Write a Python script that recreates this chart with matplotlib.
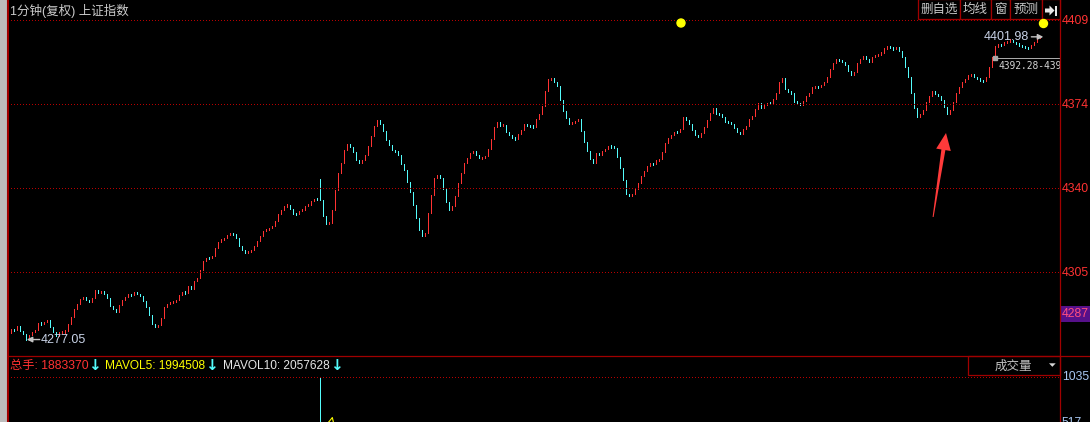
import matplotlib.pyplot as plt
import matplotlib.transforms as mtransforms
from matplotlib.patches import Rectangle, Polygon, Circle
import numpy as np

plt.rcParams['font.family'] = ['Liberation Sans', 'Noto Sans CJK SC', 'DejaVu Sans']

# 1分钟收盘价 (bar 1 .. 344)
closes = [
    4281.4, 4280.9, 4282.8, 4280.7, 4279.3, 4277.05, 4279.0, 4280.1, 4280.9, 4284.0,
    4283.4, 4284.4, 4285.1, 4282.1, 4280.0, 4278.6, 4280.0, 4280.3, 4280.4, 4283.4,
    4286.5, 4289.7, 4291.8, 4293.7, 4294.8, 4293.2, 4292.6, 4294.3, 4297.3, 4296.2,
    4296.9, 4295.9, 4294.1, 4290.8, 4289.6, 4288.3, 4291.1, 4293.4, 4294.8, 4295.7,
    4295.3, 4296.6, 4295.9, 4295.1, 4292.8, 4290.4, 4287.2, 4283.4, 4282.1, 4283.2,
    4285.9, 4290.4, 4291.8, 4292.3, 4292.8, 4293.4, 4295.3, 4296.6, 4296.4, 4299.0,
    4297.9, 4301.2, 4302.6, 4305.9, 4309.4, 4310.9, 4310.5, 4311.5, 4314.7, 4317.1,
    4318.4, 4319.0, 4320.1, 4320.8, 4320.5, 4319.1, 4315.7, 4314.0, 4312.9, 4313.3,
    4314.0, 4315.7, 4317.75, 4319.8, 4321.9, 4322.3, 4322.9, 4324.0, 4326.1, 4329.0,
    4330.7, 4332.3, 4332.5, 4331.1, 4329.0, 4328.8, 4330.25, 4330.7, 4332.1, 4332.75,
    4334.1, 4335.25, 4334.6, 4334.5, 4328.2, 4324.8, 4325.2, 4330.7, 4338.6, 4345.7,
    4349.8, 4355.25, 4357.75, 4356.5, 4354.6, 4351.1, 4349.8, 4351.1, 4353.2, 4356.9,
    4361.1, 4365.25, 4367.75, 4366.1, 4363.2, 4359.4, 4357.3, 4355.25, 4354.8, 4353.2,
    4349.4, 4346.9, 4341.9, 4337.75, 4332.75, 4327.3, 4322.3, 4319.8, 4321.2, 4329.4,
    4336.9, 4343.6, 4344.8, 4343.6, 4339.0, 4334.0, 4330.7, 4332.3, 4336.1, 4341.5,
    4345.7, 4349.8, 4351.9, 4354.0, 4354.8, 4353.2, 4351.9, 4352.3, 4352.75, 4355.7,
    4359.8, 4364.8, 4366.9, 4365.25, 4365.7, 4362.75, 4361.5, 4360.25, 4359.8, 4361.9,
    4363.6, 4366.1, 4365.25, 4365.1, 4364.8, 4368.2, 4370.25, 4373.6, 4379.8, 4384.4,
    4384.8, 4383.2, 4381.5, 4376.1, 4371.5, 4368.6, 4366.1, 4366.6, 4367.3, 4368.2,
    4363.2, 4358.6, 4354.8, 4351.5, 4349.8, 4354.0, 4353.2, 4354.8, 4355.7, 4356.9,
    4356.5, 4356.2, 4352.3, 4347.75, 4342.75, 4337.3, 4336.1, 4337.3, 4339.0, 4341.5,
    4344.4, 4346.5, 4348.6, 4349.8, 4349.4, 4351.1, 4351.5, 4354.4, 4358.2, 4360.25,
    4361.5, 4362.75, 4362.5, 4364.0, 4369.0, 4367.75, 4366.1, 4363.6, 4361.5, 4360.7,
    4362.3, 4364.8, 4367.75, 4370.7, 4372.75, 4370.25, 4370.1, 4369.0, 4366.9, 4366.5,
    4366.1, 4364.4, 4362.75, 4361.9, 4364.0, 4365.25, 4368.2, 4369.4, 4372.3, 4374.8,
    4372.75, 4374.0, 4374.8, 4374.3, 4376.5, 4379.0, 4383.2, 4384.8, 4380.25, 4379.4,
    4378.6, 4375.25, 4374.8, 4374.0, 4375.7, 4377.75, 4378.6, 4381.1, 4381.5, 4381.2,
    4382.3, 4383.2, 4385.25, 4388.6, 4391.1, 4392.75, 4392.4, 4391.6, 4390.2, 4388.0,
    4386.3, 4387.5, 4391.1, 4392.7, 4394.1, 4392.9, 4391.6, 4393.8, 4394.3, 4394.7,
    4395.5, 4397.2, 4398.0, 4397.5, 4396.9, 4397.8, 4396.3, 4393.6, 4389.7, 4385.5,
    4378.6, 4372.5, 4368.8, 4370.2, 4371.6, 4375.1, 4377.5, 4379.7, 4378.3, 4377.5,
    4375.8, 4373.0, 4370.2, 4371.9, 4375.0, 4378.6, 4381.3, 4383.3, 4384.7, 4386.1,
    4386.5, 4385.2, 4384.7, 4384.1, 4383.6, 4385.5, 4389.7, 4393.8, 4398.0, 4398.8,
    4398.6, 4399.7, 4400.2, 4400.8, 4399.7, 4399.1, 4398.6, 4398.0, 4397.5, 4397.2,
    4398.8, 4400.0, 4401.6, 4401.98,
]
first_open = 4279.6
gap_opens = {104: 4343.2}   # bar whose open jumps away from the previous close

low_bar, low_price = 6, 4277.05
high_bar, high_price = 344, 4401.98

grid_prices = [4408.8, 4374.1, 4339.5, 4304.8]
grid_labels = ['4409', '4374', '4340', '4305']
mark_label = '4287'

range_bar, range_price = 329, 4393.1
range_text = '4392.28-439'

# 成交量 (only the part that shows above the bottom edge)
vol_bars = list(range(100, 113))
vol_values = [230, 250, 270, 240, 1035, 480, 470, 460, 450, 300, 280, 260, 250]
vol_grid = [1035, 517]
total_hands = 1883370
mavol5 = 1994508
mavol10 = 2057628

title = '1分钟(复权) 上证指数'
buttons = ['删自选', '均线', '窗', '预测']
button_edges = [918.3, 960, 991, 1010, 1041.7, 1060]

RED = '#ff3232'
CYAN = '#54fcfc'
FRAME = '#a00000'
DOTS = '#b80000'
W, H = 1090, 422


def box(x0, y0, x1, y1):
    return [x0 / W, 1 - y1 / H, (x1 - x0) / W, (y1 - y0) / H]


def bar_at(px):
    return (px - 11.33) / 3 + 1


def price_at(py):
    return 4304.8 - (py - 272.3) / 2.423


fig = plt.figure(figsize=(W / 100, H / 100), dpi=100, facecolor='black')

# ---- price pane
ax = fig.add_axes(box(8, 0, 1060, 356))
ax.set_axis_off()
ax.set_xlim(bar_at(8), bar_at(1060))
ax.set_ylim(price_at(356), price_at(0))

xs = np.arange(1, len(closes) + 1)
c = np.array(closes)
o = np.array([first_open] + closes[:-1])
for b, v in gap_opens.items():
    o[b - 1] = v
lo = np.minimum(o, c)
hi = np.maximum(o, c)
mid = (lo + hi) / 2
tiny = hi - lo < 0.9
lo[tiny] = mid[tiny] - 0.45
hi[tiny] = mid[tiny] + 0.45
cols = [RED if cc >= oo else CYAN for oo, cc in zip(o, c)]
ax.vlines(xs, lo, hi, colors=cols, linewidth=0.72, antialiased=False)

for gp, lab in zip(grid_prices, grid_labels):
    ax.plot([bar_at(8), bar_at(1059)], [gp, gp], color=DOTS, lw=0.72,
            dashes=[1, 2.2], antialiased=False)
    ax.text(bar_at(1062), gp - 0.3, lab, color=RED, fontsize=8.8,
            ha='left', va='center', clip_on=False)

# low / high markers
gray = '#c4c4c4'
ax.annotate('', xy=(low_bar + 0.15, low_price), xytext=(13, 0), textcoords='offset pixels',
            arrowprops=dict(arrowstyle='-|>', color=gray, lw=1.0, shrinkA=0, shrinkB=0,
                            mutation_scale=8))
ax.annotate(f'{low_price:.2f}', xy=(low_bar, low_price), xytext=(14, 0),
            textcoords='offset pixels', ha='left', va='center', color='#c8d2e6', fontsize=9)
ax.annotate('', xy=(high_bar + 1.0, high_price), xytext=(high_bar - 3, high_price),
            arrowprops=dict(arrowstyle='-|>', color=gray, lw=1.0, shrinkA=0, shrinkB=0,
                            mutation_scale=8))
ax.annotate(f'{high_price:.2f}', xy=(high_bar, high_price), xytext=(-11, 0),
            textcoords='offset pixels', ha='right', va='center', color='#c8d2e6', fontsize=9)

# range line with clipped text
ax.plot([range_bar, bar_at(1060)], [range_price, range_price], color='#a8a8a8', lw=0.72)
ax.plot([range_bar], [range_price], marker='s', ms=2.2, color='#a8a8a8')
trans = mtransforms.offset_copy(ax.transData, fig=fig, x=3, y=-7.4, units='dots')
t = ax.text(range_bar, range_price, range_text, transform=trans, family='DejaVu Sans Mono',
            fontsize=6.9, color='#d4d4d4', ha='left', va='center')
t.set_clip_box(ax.bbox)
t.set_clip_on(True)

# ---- volume pane (bottom runs past the picture edge)
vax = fig.add_axes(box(8, 356, 1060, 469))
vax.set_axis_off()
vax.set_xlim(bar_at(8), bar_at(1060))
vax.set_ylim(0, 1035 * 113 / 92)
vcols = [cols[b - 1] for b in vol_bars]
vax.vlines(vol_bars, 0, vol_values, colors=vcols, linewidth=0.72, antialiased=False)
ma5 = [np.mean(vol_values[k - 4:k + 1]) for k in range(4, len(vol_values))]
vax.plot(vol_bars[4:], ma5, color='#ffff00', lw=0.8)
vax.plot([bar_at(8), bar_at(1059)], [vol_grid[0]] * 2, color=DOTS, lw=0.72,
         dashes=[1, 2.2], antialiased=False)
for v in vol_grid:
    vax.text(bar_at(1062), v, str(v), color='#a9c8f2', fontsize=8.8,
             ha='left', va='center', clip_on=False)

# ---- window chrome, in pixels
ov = fig.add_axes([0, 0, 1, 1], zorder=10)
ov.set_xlim(0, W)
ov.set_ylim(H, 0)
ov.set_axis_off()
ov.patch.set_alpha(0)

ov.add_patch(Rectangle((0, 0), 7, H, facecolor='#bdbdbd', edgecolor='none'))
ov.plot([8, 8], [0, H], color=FRAME, lw=1.5)
ov.plot([1060, 1060], [0, H], color=FRAME, lw=0.9)
ov.plot([8, W], [355.7, 355.7], color=FRAME, lw=0.9)

ov.text(10, 10.5, title, color='#cccccc', fontsize=9, ha='left', va='center')

for i in range(5):
    ov.add_patch(Rectangle((button_edges[i], -1), button_edges[i + 1] - button_edges[i], 20.3,
                           facecolor='black', edgecolor=FRAME, lw=0.9))
for i, lab in enumerate(buttons):
    ov.text((button_edges[i] + button_edges[i + 1]) / 2, 10, lab, color='#c8c8c8',
            fontsize=9, ha='center', va='center')
ov.add_patch(Polygon([(1045, 8.5), (1049.5, 8.5), (1049.5, 5.5), (1054.5, 10.5),
                      (1049.5, 15.5), (1049.5, 12.5), (1045, 12.5)],
                     facecolor='#e8e8e8', edgecolor='none'))
ov.add_patch(Rectangle((1055, 5.5), 2, 10, facecolor='#e8e8e8', edgecolor='none'))

ov.add_patch(Circle((681, 23), 4, color='#ffff00'))
ov.add_patch(Circle((1043.5, 23.5), 4, color='#ffff00'))

ov.add_patch(Rectangle((1060.7, 305.7), 30, 16, facecolor='#56108a', edgecolor='none'))
ov.text(1062, 314, mark_label, color='#ff4f7f', fontsize=8.8, ha='left', va='center')

# hand-drawn red arrow
ov.add_patch(Polygon([(946, 133), (950.8, 151), (945.4, 150.1), (933.6, 217),
                      (932.6, 217), (941.4, 149.5), (936.2, 148.6)],
                     facecolor='#ff3a3a', edgecolor='none'))

# volume header
ov.text(9.5, 366, f'总手: {total_hands}', color=RED, fontsize=8.8, ha='left', va='center')
for ax_x in (94.5, 211.5, 336.5):
    ov.text(ax_x, 366, '↓', color=CYAN, fontsize=11, fontweight='bold', family='DejaVu Sans',
            ha='center', va='center')
ov.text(105, 366, f'MAVOL5: {mavol5}', color='#ffff00', fontsize=8.6, ha='left', va='center')
ov.text(223, 366, f'MAVOL10: {mavol10}', color='#e6e6e6', fontsize=8.6, ha='left', va='center')

ov.add_patch(Rectangle((968.3, 355.7), 1060 - 968.3, 19.3, facecolor='black',
                       edgecolor=FRAME, lw=0.9))
ov.text(1013.3, 366.5, '成交量', color='#c0c0c0', fontsize=9, ha='center', va='center')
ov.add_patch(Polygon([(1049, 363.3), (1055.7, 363.3), (1052.35, 366.8)],
                     facecolor='#d8d8d8', edgecolor='none'))

fig.savefig('out.png', dpi=100, facecolor='black')
